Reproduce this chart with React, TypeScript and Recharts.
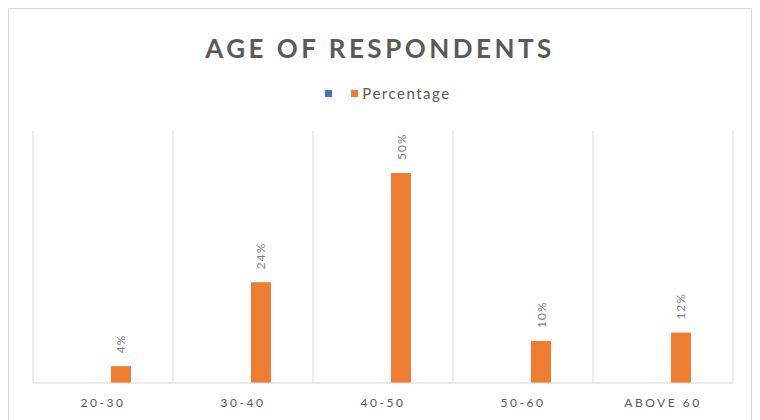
import React from "react";
import {
  Bar,
  BarChart,
  CartesianGrid,
  LabelList,
  Legend,
  XAxis,
  YAxis,
} from "recharts";

const categories = ["20-30", "30-40", "40-50", "50-60", "ABOVE 60"];
// first series has no name and no values in the source sheet
const blankValues = [0, 0, 0, 0, 0];
const percentValues = [4, 24, 50, 10, 12];
const yTicks = [0, 10, 20, 30, 40, 50, 60];

const data = categories.map((c, i) => ({
  age: c,
  blank: blankValues[i],
  pct: percentValues[i],
}));

const FONT = "Lato, 'Open Sans', sans-serif";

const AxisTick = (props: any) => {
  const { x, y, payload } = props;
  return (
    <text
      x={x}
      y={y + 16}
      textAnchor="middle"
      fill="#595959"
      fontSize={12}
      fontFamily={FONT}
      letterSpacing="2.5px"
    >
      {payload.value}
    </text>
  );
};

const BarLabel = (props: any) => {
  const { x, y, width, value } = props;
  const cx = x + width / 2;
  const ty = y - 13;
  return (
    <text
      x={cx}
      y={ty}
      transform={`rotate(-90, ${cx}, ${ty})`}
      textAnchor="start"
      dominantBaseline="central"
      fill="#7f7f7f"
      fontSize={12}
      letterSpacing="1px"
      fontFamily={FONT}
    >
      {value + "%"}
    </text>
  );
};

const LegendContent = (props: any) => {
  const items = props.payload || [];
  return (
    <div
      style={{
        display: "flex",
        justifyContent: "center",
        paddingLeft: 16,
        fontFamily: FONT,
        fontSize: 15,
        letterSpacing: "1.5px",
        color: "#595959",
        lineHeight: "17px",
      }}
    >
      {items.map((p: any, i: number) => (
        <span
          key={i}
          style={{
            display: "flex",
            alignItems: "center",
            marginLeft: i === 0 ? 0 : 15,
          }}
        >
          <span
            style={{
              width: 7,
              height: 7,
              background: p.color,
              display: "inline-block",
              marginRight: 4,
            }}
          />
          {p.value}
        </span>
      ))}
    </div>
  );
};

export default function App() {
  return (
    <div
      style={{
        position: "relative",
        width: 742,
        height: 420,
        border: "1px solid #d9d9d9",
        background: "#fff",
      }}
    >
      <div
        style={{
          position: "absolute",
          top: 23,
          left: 0,
          width: 742,
          textAlign: "center",
          fontFamily: FONT,
          fontWeight: 700,
          fontSize: 26,
          letterSpacing: "3.5px",
          color: "#595959",
        }}
      >
        AGE OF RESPONDENTS
      </div>
      <BarChart
        width={742}
        height={411}
        data={data}
        margin={{ top: 105, right: 18, bottom: 7, left: 24 }}
        barSize={20}
        barGap={15}
      >
        <CartesianGrid
          horizontal={false}
          stroke="#d9d9d9"
          verticalCoordinatesGenerator={({ offset }: any) =>
            categories
              .map((_, i) => offset.left + (i * offset.width) / categories.length)
              .concat(offset.left + offset.width)
          }
        />
        <XAxis
          dataKey="age"
          height={30}
          axisLine={{ stroke: "#d9d9d9" }}
          tickLine={false}
          tick={<AxisTick />}
          interval={0}
        />
        <YAxis hide domain={[0, 60]} ticks={yTicks} />
        <Legend
          verticalAlign="top"
          content={<LegendContent />}
          wrapperStyle={{ top: 76, left: 0, width: 742 }}
        />
        <Bar dataKey="blank" name="" fill="#4472C4" isAnimationActive={false} />
        <Bar
          dataKey="pct"
          name="Percentage"
          fill="#ED7D31"
          isAnimationActive={false}
        >
          <LabelList dataKey="pct" content={<BarLabel />} />
        </Bar>
      </BarChart>
    </div>
  );
}
